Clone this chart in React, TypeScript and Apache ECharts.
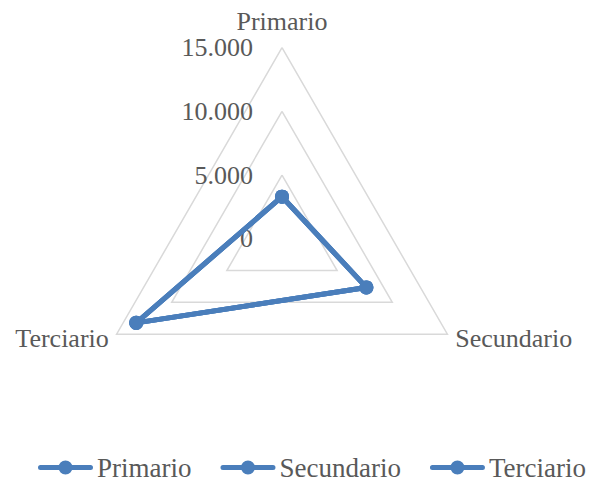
import React, { useEffect, useRef } from "react";
import * as echarts from "echarts";

const indicators = ["Primario", "Secundario", "Terciario"];
const values = [3300, 7650, 13220];
const seriesNames = ["Primario", "Secundario", "Terciario"];
const axisMax = 15000;
const axisSplits = 3;

const BLUE = "#4a7ebb";
const TEXT = "#595959";
const FONT = "'Liberation Serif', 'Times New Roman', serif";

const legendIcon =
  "path://M2.5,5 H52.5 A2.5,2.5 0 0 1 52.5,10 H2.5 A2.5,2.5 0 0 1 2.5,5 Z M20.5,7.5 A7,7 0 1 1 34.5,7.5 A7,7 0 1 1 20.5,7.5 Z";

const fmt = (v: number) =>
  String(Math.round(v)).replace(/\B(?=(\d{3})+(?!\d))/g, ".");

// ECharts radar runs counter-clockwise; reorder so the axes go clockwise like the reference
const clockwise = (arr: any[]) => [arr[0], ...arr.slice(1).reverse()];

export default function App() {
  const ref = useRef<HTMLDivElement>(null);
  useEffect(() => {
    if (!ref.current) return;
    const chart = echarts.init(ref.current, undefined, { renderer: "svg" });
    const ind = clockwise(indicators);
    const vals = clockwise(values);
    chart.setOption({
      animation: false,
      backgroundColor: "#ffffff",
      textStyle: { fontFamily: FONT, color: TEXT },
      legend: {
        left: 38,
        top: 454,
        width: 580,
        padding: 0,
        itemGap: 29,
        itemWidth: 55,
        itemHeight: 15,
        icon: legendIcon,
        data: seriesNames,
        textStyle: { fontFamily: FONT, fontSize: 27, color: TEXT, padding: [0, 0, 0, -1] },
      },
      radar: {
        center: [282, 238.7],
        radius: 191,
        shape: "polygon",
        startAngle: 90,
        splitNumber: axisSplits,
        nameGap: 9,
        axisName: { color: TEXT, fontSize: 26, fontFamily: FONT },
        axisLine: { show: false },
        axisTick: { show: false },
        splitArea: { show: false },
        splitLine: { lineStyle: { color: "#d9d9d9", width: 1.5 } },
        axisLabel: {
          show: false,
          fontSize: 26,
          fontFamily: FONT,
          color: TEXT,
          margin: 29,
          formatter: (v: number) => fmt(v),
        },
        indicator: ind.map((name, i) => ({
          name,
          min: 0,
          max: axisMax,
          axisLabel: { show: i === 0 },
        })),
      },
      series: [
        {
          type: "radar",
          symbol: "circle",
          symbolSize: 14,
          lineStyle: { color: BLUE, width: 5 },
          itemStyle: { color: BLUE },
          data: seriesNames.map((name) => ({ name, value: vals })),
        },
      ],
    });
    return () => chart.dispose();
  }, []);
  return (
    <div
      ref={ref}
      style={{ position: "fixed", left: 0, top: 0, width: 590, height: 483, background: "#fff" }}
    />
  );
}
